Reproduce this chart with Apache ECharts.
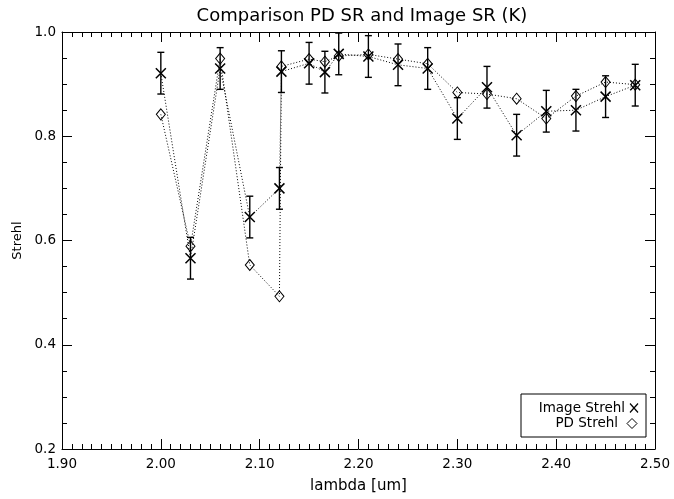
<!DOCTYPE html>
<html>
<head>
<meta charset="utf-8">
<script src="https://cdn.jsdelivr.net/npm/echarts@6/dist/echarts.min.js"></script>
<style>html,body{margin:0;padding:0;background:#fff}#c{width:674px;height:499px}</style>
</head>
<body>
<div id="c"></div>
<script>
const lambda = [2.00, 2.03, 2.06, 2.09, 2.12, 2.122, 2.15, 2.166, 2.18, 2.21, 2.24, 2.27, 2.30, 2.33, 2.36, 2.39, 2.42, 2.45, 2.48];
const imageStrehl = [0.921, 0.566, 0.930, 0.645, 0.700, 0.924, 0.940, 0.923, 0.958, 0.953, 0.937, 0.930, 0.834, 0.894, 0.802, 0.848, 0.850, 0.876, 0.898];
const imageErr = [0.040, 0.040, 0.040, 0.040, 0.040, 0.040, 0.040, 0.040, 0.040, 0.040, 0.040, 0.040, 0.040, 0.040, 0.040, 0.040, 0.040, 0.040, 0.040];
const pdStrehl = [0.842, 0.589, 0.949, 0.553, 0.493, 0.934, 0.948, 0.943, 0.954, 0.957, 0.948, 0.939, 0.884, 0.881, 0.872, 0.834, 0.877, 0.904, 0.899];
const xTicks = [1.90, 2.00, 2.10, 2.20, 2.30, 2.40, 2.50];
const yTicks = [0.2, 0.4, 0.6, 0.8, 1.0];
const titleText = 'Comparison PD SR and Image SR (K)';
const xName = 'lambda [um]';
const yName = 'Strehl';
const legendNames = ['Image Strehl', 'PD Strehl'];

const FONT = 'DejaVu Sans';
const chart = echarts.init(document.getElementById('c'), null, {renderer: 'canvas'});

const imgData = lambda.map((x, i) => [x, imageStrehl[i]]);
const pdData = lambda.map((x, i) => [x, pdStrehl[i]]);
const errData = lambda.map((x, i) => [x, imageStrehl[i] - imageErr[i], imageStrehl[i] + imageErr[i]]);

const xMin = xTicks[0], xMax = xTicks[xTicks.length - 1];
const yMin = yTicks[0], yMax = yTicks[yTicks.length - 1];

function xAxisBase(pos, showLabel) {
  return {
    type: 'value', position: pos, min: xMin, max: xMax, interval: 0.1,
    axisLine: {show: true, onZero: false, lineStyle: {color: '#000', width: 1}},
    axisTick: {show: true, inside: true, length: 10, lineStyle: {color: '#000'}},
    minorTick: {show: true, splitNumber: 10, length: 5, lineStyle: {color: '#000'}},
    splitLine: {show: false},
    axisLabel: {show: showLabel, margin: 8, color: '#000', fontFamily: FONT, fontSize: 13.5,
      formatter: v => v.toFixed(2)}
  };
}
function yAxisBase(pos, showLabel) {
  return {
    type: 'value', position: pos, min: yMin, max: yMax, interval: 0.2,
    axisLine: {show: true, onZero: false, lineStyle: {color: '#000', width: 1}},
    axisTick: {show: true, inside: true, length: 10, lineStyle: {color: '#000'}},
    minorTick: {show: true, splitNumber: 4, length: 5, lineStyle: {color: '#000'}},
    splitLine: {show: false},
    axisLabel: {show: showLabel, margin: 6, color: '#000', fontFamily: FONT, fontSize: 13.5,
      formatter: v => v.toFixed(1)}
  };
}

const xa0 = xAxisBase('bottom', true);
xa0.name = xName; xa0.nameLocation = 'middle'; xa0.nameGap = 30;
xa0.nameTextStyle = {color: '#000', fontFamily: FONT, fontSize: 15};
const ya0 = yAxisBase('left', true);
ya0.name = yName; ya0.nameLocation = 'middle'; ya0.nameGap = 30;
ya0.nameTextStyle = {color: '#000', fontFamily: FONT, fontSize: 13};

const crossPath = 'path://M0,0L10,10M10,0L0,10';

chart.setOption({
  animation: false,
  backgroundColor: '#fff',
  title: {text: titleText, left: 357, top: 2, textAlign: 'center',
    textStyle: {color: '#000', fontFamily: FONT, fontSize: 18, fontWeight: 'normal'}},
  grid: {left: 62, right: 19, top: 32, bottom: 47},
  xAxis: [xa0, xAxisBase('top', false)],
  yAxis: [ya0, yAxisBase('right', false)],
  series: [
    {
      type: 'custom', name: 'err', xAxisIndex: 0, yAxisIndex: 0, clip: false,
      data: errData, z: 3,
      renderItem: function (params, api) {
        const x = api.value(0);
        const lo = api.coord([x, api.value(1)]);
        const hi = api.coord([x, api.value(2)]);
        const w = 3.5;
        const st = {stroke: '#000', lineWidth: 1.4};
        return {type: 'group', children: [
          {type: 'line', shape: {x1: lo[0], y1: lo[1], x2: hi[0], y2: hi[1]}, style: st},
          {type: 'line', shape: {x1: lo[0] - w, y1: lo[1], x2: lo[0] + w, y2: lo[1]}, style: st},
          {type: 'line', shape: {x1: hi[0] - w, y1: hi[1], x2: hi[0] + w, y2: hi[1]}, style: st}
        ]};
      }
    },
    {
      type: 'line', name: legendNames[0], data: imgData, z: 4,
      symbol: crossPath, symbolSize: 10, showAllSymbol: true,
      itemStyle: {color: 'none', borderColor: '#000', borderWidth: 1.5},
      lineStyle: {color: '#000', width: 1, type: [1, 2]}
    },
    {
      type: 'line', name: legendNames[1], data: pdData, z: 4,
      symbol: 'diamond', symbolSize: [9, 11], showAllSymbol: true,
      itemStyle: {color: 'rgba(255,255,255,0)', borderColor: '#000', borderWidth: 1},
      lineStyle: {color: '#000', width: 1, type: [1, 2]}
    }
  ],
  graphic: [
    {type: 'rect', shape: {x: 521, y: 394, width: 125, height: 43},
      style: {fill: '#fff', stroke: '#000', lineWidth: 1}, z: 10},
    {type: 'text', x: 625, y: 408, z: 11,
      style: {text: legendNames[0], align: 'right', verticalAlign: 'middle', fill: '#000', font: '13.5px ' + FONT}},
    {type: 'text', x: 618, y: 423.5, z: 11,
      style: {text: legendNames[1], align: 'right', verticalAlign: 'middle', fill: '#000', font: '13.5px ' + FONT}},
    {type: 'polyline', z: 11, shape: {points: [[630, 403.5], [638, 412.5]]}, style: {stroke: '#000', lineWidth: 1.2, fill: null}},
    {type: 'polyline', z: 11, shape: {points: [[638, 403.5], [630, 412.5]]}, style: {stroke: '#000', lineWidth: 1.2, fill: null}},
    {type: 'polygon', z: 11, shape: {points: [[632, 418.5], [637, 423.5], [632, 428.5], [627, 423.5]]}, style: {stroke: '#000', lineWidth: 1, fill: 'none'}}
  ]
});
</script>
</body>
</html>
